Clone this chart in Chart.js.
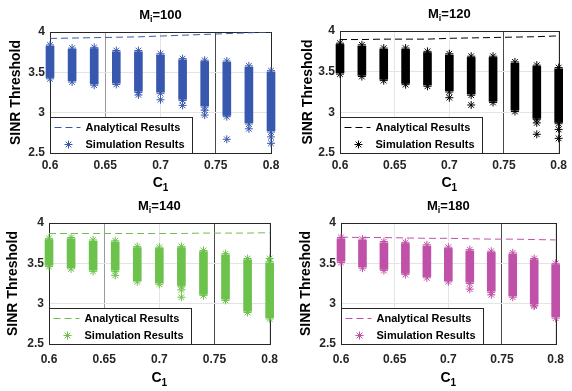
<!DOCTYPE html>
<html>
<head>
<meta charset="utf-8">
<script src="https://cdn.jsdelivr.net/npm/chart.js@4.4.1/dist/chart.umd.min.js"></script>
<style>
  html, body { margin: 0; padding: 0; background: #fff; }
  #wrap { position: relative; width: 572px; height: 391px; overflow: hidden; }
  #wrap canvas { position: absolute; }
</style>
</head>
<body>
<div id="wrap">
  <canvas id="c100" width="286" height="195" style="left:0;top:0"></canvas>
  <canvas id="c120" width="286" height="195" style="left:286px;top:0"></canvas>
  <canvas id="c140" width="286" height="196" style="left:0;top:195px"></canvas>
  <canvas id="c180" width="286" height="196" style="left:286px;top:195px"></canvas>
</div>
<script>
// x positions of the simulated C1 values
const xValues = [0.6, 0.62, 0.64, 0.66, 0.68, 0.7, 0.72, 0.74, 0.76, 0.78, 0.8];
const xTicks = [0.6, 0.65, 0.7, 0.75, 0.8];
const yTicks = [2.5, 3, 3.5, 4];

// M_i = 100
const analytic100 = [3.92, 3.925, 3.93, 3.935, 3.94, 3.95, 3.96, 3.97, 3.98, 3.99, 4.0];
const top100 = [3.84, 3.80, 3.81, 3.77, 3.77, 3.73, 3.67, 3.65, 3.64, 3.58, 3.52];
const bottom100 = [3.42, 3.38, 3.34, 3.35, 3.25, 3.24, 3.15, 3.07, 2.95, 2.86, 2.76];
const outlierX100 = [0.68, 0.7, 0.72, 0.74, 0.74, 0.76, 0.78, 0.8, 0.8];
const outlierY100 = [3.22, 3.16, 3.09, 3.03, 2.97, 2.67, 2.80, 2.70, 2.62];

// M_i = 120
const analytic120 = [3.895, 3.895, 3.9, 3.9, 3.9, 3.91, 3.915, 3.92, 3.925, 3.93, 3.94];
const top120 = [3.85, 3.83, 3.79, 3.79, 3.75, 3.72, 3.69, 3.69, 3.62, 3.58, 3.55];
const bottom120 = [3.47, 3.44, 3.39, 3.34, 3.32, 3.25, 3.21, 3.12, 3.01, 2.91, 2.86];
const outlierX120 = [0.7, 0.72, 0.78, 0.78, 0.8, 0.8];
const outlierY120 = [3.18, 3.09, 2.87, 2.73, 2.79, 2.68];

// M_i = 140
const analytic140 = [3.87, 3.87, 3.87, 3.87, 3.87, 3.87, 3.87, 3.875, 3.875, 3.875, 3.88];
const top140 = [3.81, 3.82, 3.79, 3.78, 3.71, 3.70, 3.71, 3.66, 3.62, 3.56, 3.52];
const bottom140 = [3.46, 3.43, 3.40, 3.40, 3.27, 3.24, 3.21, 3.10, 3.04, 2.89, 2.81];
const outlierX140 = [0.66, 0.72, 0.72, 0.8];
const outlierY140 = [3.35, 3.17, 3.08, 3.56];

// M_i = 180
const analytic180 = [3.825, 3.82, 3.82, 3.815, 3.81, 3.81, 3.805, 3.8, 3.8, 3.795, 3.79];
const top180 = [3.82, 3.80, 3.77, 3.76, 3.73, 3.70, 3.67, 3.65, 3.63, 3.56, 3.50];
const bottom180 = [3.51, 3.44, 3.41, 3.36, 3.32, 3.27, 3.25, 3.14, 3.08, 2.98, 2.82];
const outlierX180 = [0.72, 0.74, 0.78, 0.78];
const outlierY180 = [3.18, 3.11, 3.53, 2.97];

const FONT = "'Liberation Sans', Arial, sans-serif";

// draw "base" + subscript + rest, centred on cx
function drawSubText(ctx, base, sub, rest, cx, cy, size) {
    const big = 'bold ' + size + 'px ' + FONT;
    const small = 'bold ' + Math.round(size * 0.7) + 'px ' + FONT;
    ctx.font = big;
    const wBase = ctx.measureText(base).width;
    const wRest = ctx.measureText(rest).width;
    ctx.font = small;
    const wSub = ctx.measureText(sub).width;
    let x = cx - (wBase + wSub + wRest) / 2;
    ctx.fillStyle = '#000';
    ctx.textAlign = 'left';
    ctx.textBaseline = 'middle';
    ctx.font = big;
    ctx.fillText(base, x, cy);
    x += wBase;
    ctx.font = small;
    ctx.fillText(sub, x, cy + size * 0.35);
    x += wSub;
    ctx.font = big;
    ctx.fillText(rest, x, cy);
}

// MATLAB-like axes box, inner legend, titles with subscripts
const matlabDecor = {
    id: 'matlabDecor',
    beforeDatasetsDraw(chart) {
        const {ctx, chartArea: a} = chart;
        ctx.save();
        ctx.strokeStyle = '#262626';
        ctx.lineWidth = 1;
        ctx.strokeRect(Math.round(a.left) + 0.5, Math.round(a.top) + 0.5,
            Math.round(a.right - a.left), Math.round(a.bottom - a.top));
        ctx.restore();
    },
    afterDatasetsDraw(chart, args, opts) {
        const {ctx, chartArea: a} = chart;
        const left = Math.round(a.left) + 0.5;
        const bottom = Math.round(a.bottom) + 0.5;
        const w = 142, h = 36;
        const top = bottom - h;
        ctx.save();
        ctx.fillStyle = '#fff';
        ctx.fillRect(left, top, w, h);
        ctx.strokeStyle = '#262626';
        ctx.lineWidth = 1;
        ctx.strokeRect(left, top, w, h);

        const row1 = top + 10, row2 = top + 27;
        // dashed line sample
        ctx.strokeStyle = opts.color;
        ctx.setLineDash([7, 4]);
        ctx.beginPath();
        ctx.moveTo(left + 4, row1);
        ctx.lineTo(left + 30, row1);
        ctx.stroke();
        ctx.setLineDash([]);
        // asterisk sample
        const cx = left + 18, r = 4;
        ctx.beginPath();
        ctx.moveTo(cx - r, row2); ctx.lineTo(cx + r, row2);
        ctx.moveTo(cx, row2 - r); ctx.lineTo(cx, row2 + r);
        const d = r * 0.707;
        ctx.moveTo(cx - d, row2 - d); ctx.lineTo(cx + d, row2 + d);
        ctx.moveTo(cx - d, row2 + d); ctx.lineTo(cx + d, row2 - d);
        ctx.stroke();

        ctx.fillStyle = '#000';
        ctx.font = 'bold 11px ' + FONT;
        ctx.textAlign = 'left';
        ctx.textBaseline = 'middle';
        ctx.fillText('Analytical Results', left + 35, row1);
        ctx.fillText('Simulation Results', left + 35, row2);
        ctx.restore();
    },
    afterDraw(chart, args, opts) {
        const {ctx, chartArea: a} = chart;
        const cx = (a.left + a.right) / 2;
        ctx.save();
        drawSubText(ctx, 'M', 'i', '=' + opts.m, cx, a.top - 17, 13);
        drawSubText(ctx, 'C', '1', '', cx, a.bottom + opts.xlabelOffset, 14);
        ctx.restore();
    }
};

function makePanel(id, m, color, analytic, tops, bottoms, outX, outY, layout) {
    const bars = xValues.map((x, i) => ({x: x, y: [bottoms[i] + 0.015, tops[i] - 0.015]}));
    const stars = [];
    xValues.forEach((x, i) => {
        stars.push({x: x, y: tops[i]});
        stars.push({x: x, y: bottoms[i]});
    });
    outX.forEach((x, i) => stars.push({x: x, y: outY[i]}));

    new Chart(document.getElementById(id), {
        type: 'scatter',
        data: {
            datasets: [
                {
                    type: 'line',
                    label: 'Analytical Results',
                    data: xValues.map((x, i) => ({x: x, y: analytic[i]})),
                    borderColor: color,
                    borderWidth: 1,
                    borderDash: [7, 4],
                    pointRadius: 0,
                    fill: false,
                    order: 0
                },
                {
                    type: 'bar',
                    label: 'Simulation Results',
                    data: bars,
                    backgroundColor: color,
                    barThickness: 8,
                    clip: false,
                    order: 2
                },
                {
                    type: 'scatter',
                    label: 'Simulation Results',
                    data: stars,
                    pointStyle: 'star',
                    pointRadius: 4,
                    borderWidth: 1,
                    borderColor: color,
                    backgroundColor: color,
                    clip: false,
                    order: 1
                }
            ]
        },
        options: {
            responsive: false,
            animation: false,
            events: [],
            layout: {padding: {left: 0, right: layout.padRight, top: layout.padTop, bottom: 0}},
            plugins: {
                legend: {display: false},
                tooltip: {enabled: false},
                matlabDecor: {color: color, m: m, xlabelOffset: layout.xlabelOffset}
            },
            scales: {
                x: {
                    type: 'linear',
                    min: 0.6,
                    max: 0.8,
                    offset: false,
                    afterBuildTicks: s => { s.ticks = xTicks.map(v => ({value: v})); },
                    afterFit: s => { s.height = layout.xHeight; },
                    grid: {
                        offset: false,
                        drawTicks: false,
                        color: c => (c.tick && c.tick.value === 0.75) ? '#4a4a4a'
                            : (layout.darkMid && c.tick && c.tick.value === 0.65) ? '#9a9a9a' : '#e4e4e4'
                    },
                    border: {display: false},
                    ticks: {
                        padding: layout.tickPad,
                        color: '#262626',
                        font: {family: FONT, size: 12, weight: 'bold'},
                        callback: v => String(v)
                    }
                },
                y: {
                    type: 'linear',
                    min: 2.5,
                    max: 4,
                    afterBuildTicks: s => { s.ticks = yTicks.map(v => ({value: v})); },
                    afterFit: s => { s.width = layout.yWidth; },
                    grid: {offset: false, drawTicks: false, color: '#e4e4e4'},
                    border: {display: false},
                    ticks: {
                        padding: 5,
                        color: '#262626',
                        font: {family: FONT, size: 12, weight: 'bold'},
                        callback: v => String(v)
                    },
                    title: {
                        display: true,
                        text: 'SINR Threshold',
                        color: '#000',
                        padding: {top: layout.yTitlePad, bottom: 0},
                        font: {family: FONT, size: 14, weight: 'bold'}
                    }
                }
            }
        },
        plugins: [matlabDecor]
    });
}

makePanel('c100', 100, '#3858B0', analytic100, top100, bottom100, outlierX100, outlierY100,
    {padRight: 15, padTop: 32, yWidth: 50, xHeight: 42, tickPad: 5, xlabelOffset: 30, yTitlePad: 8, darkMid: true});
makePanel('c120', 120, '#000000', analytic120, top120, bottom120, outlierX120, outlierY120,
    {padRight: 11, padTop: 31, yWidth: 54, xHeight: 42, tickPad: 5, xlabelOffset: 30, yTitlePad: 14, darkMid: false});
makePanel('c140', 140, '#6CC24A', analytic140, top140, bottom140, outlierX140, outlierY140,
    {padRight: 13, padTop: 28, yWidth: 49, xHeight: 47, tickPad: 8, xlabelOffset: 34, yTitlePad: 5, darkMid: true});
makePanel('c180', 180, '#BF52A8', analytic180, top180, bottom180, outlierX180, outlierY180,
    {padRight: 10, padTop: 28, yWidth: 55, xHeight: 47, tickPad: 8, xlabelOffset: 34, yTitlePad: 12, darkMid: false});
</script>
</body>
</html>
